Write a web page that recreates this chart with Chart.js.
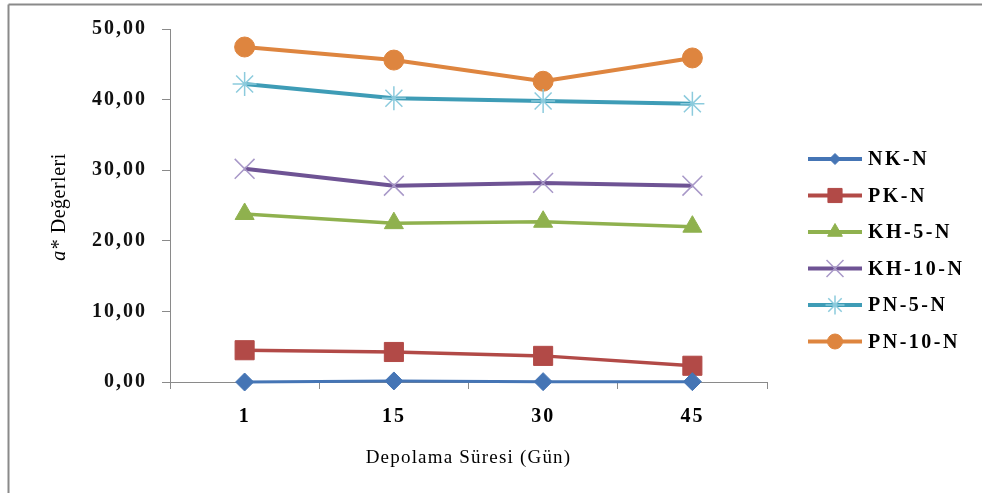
<!DOCTYPE html>
<html><head><meta charset="utf-8">
<script src="https://cdn.jsdelivr.net/npm/chart.js@4.4.0/dist/chart.umd.min.js"></script>
<style>html,body{margin:0;padding:0;background:#fff;}canvas{display:block;}</style>
</head><body>
<canvas id="c" width="982" height="493"></canvas>
<script>
// ---- data ----
const categories = ['1', '15', '30', '45'];
const seriesNames = ['NK-N', 'PK-N', 'KH-5-N', 'KH-10-N', 'PN-5-N', 'PN-10-N'];
const nkN   = [0.00, 0.15, 0.05, 0.05];
const pkN   = [4.50, 4.25, 3.70, 2.30];
const kh5N  = [23.8, 22.5, 22.7, 22.0];
const kh10N = [30.2, 27.8, 28.2, 27.8];
const pn5N  = [42.2, 40.2, 39.8, 39.4];
const pn10N = [47.45, 45.6, 42.6, 45.9];
const yMin = 0, yMax = 50, yStep = 10;
const xTitle = 'Depolama Süresi (Gün)';
const yTitleItalic = 'a';
const yTitleRest = '* Değerleri';

// ---- styles ----
const seriesValues = [nkN, pkN, kh5N, kh10N, pn5N, pn10N];
const styles = [
  {line:'#4575B5', point:'rectRot',  r:9,    bg:'#4575B5', bc:'#4575B5', bw:1,   lw:3,   lr:5.5},
  {line:'#B24A47', point:'rect',     r:13.5, bg:'#B24A47', bc:'#B24A47', bw:1,   lw:3.5, lr:10},
  {line:'#8FB14E', point:'triangle', r:11,   bg:'#8FB14E', bc:'#8FB14E', bw:1,   lw:3.5, lr:8.5},
  {line:'#6E5394', point:'crossRot', r:14,   bg:'#A898C8', bc:'#A898C8', bw:1.5, lw:4,   lr:12},
  {line:'#3E9CB6', point:'star',     r:12,   bg:'#8CCBDD', bc:'#8CCBDD', bw:1.5, lw:4,   lr:9.5},
  {line:'#DE853F', point:'circle',   r:10,   bg:'#DE853F', bc:'#DE853F', bw:1,   lw:4,   lr:7.5}
];
const SERIF = '"Liberation Serif", "Times New Roman", serif';

const datasets = seriesNames.map((name, i) => ({
  label: name,
  data: seriesValues[i],
  borderColor: styles[i].line,
  borderWidth: styles[i].lw,
  backgroundColor: styles[i].bg,
  pointStyle: styles[i].point,
  pointRadius: styles[i].r,
  pointHoverRadius: styles[i].r,
  pointBackgroundColor: styles[i].bg,
  pointBorderColor: styles[i].bc,
  pointBorderWidth: styles[i].bw,
  tension: 0,
  fill: false,
  clip: false
}));

const decorPlugin = {
  id: 'decor',
  beforeDraw(chart) {
    const ctx = chart.ctx;
    ctx.save();
    ctx.strokeStyle = '#8a8a8a';
    ctx.lineWidth = 2;
    ctx.beginPath();
    ctx.moveTo(8.5, 4.5); ctx.lineTo(982, 4.5);
    ctx.moveTo(8.5, 4.5); ctx.lineTo(8.5, 493);
    ctx.stroke();
    ctx.restore();
    ctx.letterSpacing = '2px';
  },
  afterDraw(chart) {
    const ctx = chart.ctx;
    ctx.letterSpacing = '0px';
    const area = chart.chartArea;
    // y title
    ctx.save();
    ctx.fillStyle = '#000';
    ctx.textBaseline = 'middle';
    ctx.letterSpacing = '0.5px';
    ctx.translate(60, (area.top + area.bottom) / 2 + 2);
    ctx.rotate(-Math.PI / 2);
    ctx.font = 'italic 20px ' + SERIF;
    const w1 = ctx.measureText(yTitleItalic).width;
    ctx.font = '20px ' + SERIF;
    const w2 = ctx.measureText(yTitleRest).width;
    let x0 = -(w1 + w2) / 2;
    ctx.font = 'italic 20px ' + SERIF;
    ctx.textAlign = 'left';
    ctx.fillText(yTitleItalic, x0, 0);
    ctx.font = '20px ' + SERIF;
    ctx.fillText(yTitleRest, x0 + w1 + 1, 0);
    ctx.restore();
    // x title
    ctx.save();
    ctx.fillStyle = '#000';
    ctx.font = '19px ' + SERIF;
    ctx.letterSpacing = '1.2px';
    ctx.textAlign = 'center';
    ctx.textBaseline = 'middle';
    ctx.fillText(xTitle, (area.left + area.right) / 2, 458);
    ctx.restore();
    // legend
    ctx.save();
    chart.data.datasets.forEach((ds, i) => {
      const y = 159 + i * 36.5;
      const st = styles[i];
      ctx.strokeStyle = ds.borderColor;
      ctx.lineWidth = 4;
      ctx.beginPath();
      ctx.moveTo(808, y); ctx.lineTo(862, y);
      ctx.stroke();
      ctx.fillStyle = st.bg;
      ctx.strokeStyle = st.bc;
      ctx.lineWidth = st.bw;
      Chart.helpers.drawPoint(ctx, {pointStyle: st.point, radius: st.lr, borderWidth: st.bw, rotation: 0}, 835, y);
      ctx.fillStyle = '#000';
      ctx.font = 'bold 20px ' + SERIF;
      ctx.letterSpacing = '2.5px';
      ctx.textAlign = 'left';
      ctx.textBaseline = 'middle';
      ctx.fillText(ds.label, 868, y + 1);
    });
    ctx.restore();
  }
};

new Chart(document.getElementById('c'), {
  type: 'line',
  data: { labels: categories, datasets },
  options: {
    responsive: false,
    animation: false,
    devicePixelRatio: 1,
    layout: { padding: { top: 29, right: 215, bottom: 0, left: 10 } },
    plugins: { legend: { display: false }, tooltip: { enabled: false } },
    scales: {
      x: {
        type: 'category',
        offset: true,
        grid: { offset: true, drawOnChartArea: false, drawTicks: true, tickLength: 7, color: '#8a8a8a', lineWidth: 1 },
        border: { color: '#8a8a8a', width: 1 },
        ticks: { color: '#000', font: { family: SERIF, size: 20, weight: 'bold' }, padding: 16, maxRotation: 0 },
        afterFit(s) { s.height = 493 - 382; }
      },
      y: {
        min: yMin, max: yMax,
        grid: { drawOnChartArea: false, drawTicks: true, tickLength: 8, color: '#8a8a8a', lineWidth: 1 },
        border: { color: '#8a8a8a', width: 1 },
        ticks: {
          stepSize: yStep,
          color: '#111',
          font: { family: SERIF, size: 20, weight: 'bold' },
          padding: 15,
          callback: v => v.toFixed(2).replace('.', ',')
        },
        afterFit(s) { s.width = 160; }
      }
    }
  },
  plugins: [decorPlugin]
});
</script>
</body></html>
